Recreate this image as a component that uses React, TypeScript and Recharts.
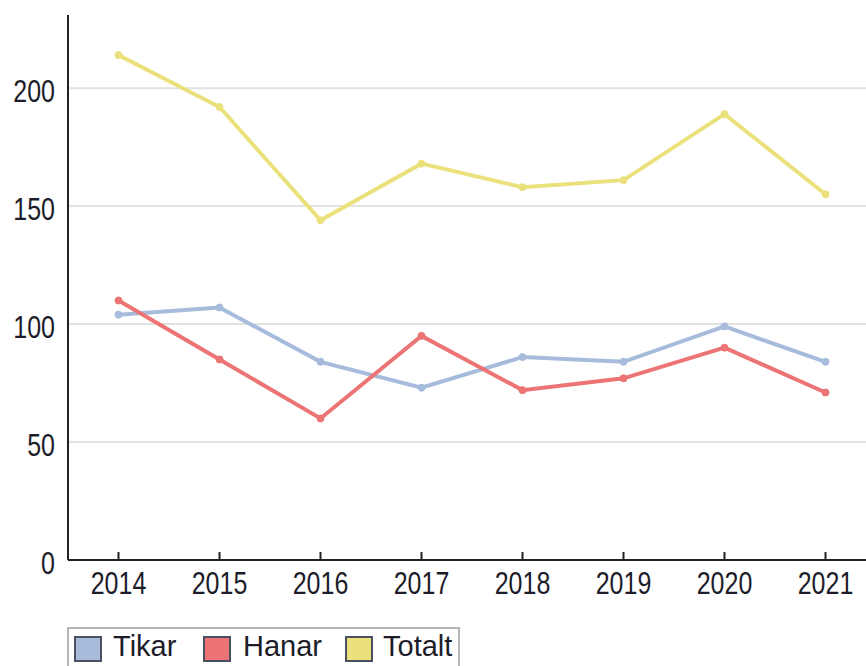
import { LineChart, Line, XAxis, YAxis, CartesianGrid } from "recharts";

const years = ["2014", "2015", "2016", "2017", "2018", "2019", "2020", "2021"];
const tikar = [104, 107, 84, 73, 86, 84, 99, 84];
const hanar = [110, 85, 60, 95, 72, 77, 90, 71];
const totalt = [214, 192, 144, 168, 158, 161, 189, 155];
const yTicks = [0, 50, 100, 150, 200];

const SERIES = [
  { key: "tikar", name: "Tikar", color: "#a7bcdc" },
  { key: "hanar", name: "Hanar", color: "#ec7474" },
  { key: "totalt", name: "Totalt", color: "#ebe17c" },
];

const FONT = "'Liberation Sans', Arial, sans-serif";
const TEXT = "#1d1d2a";

const data = years.map((y, i) => ({
  year: y,
  tikar: tikar[i],
  hanar: hanar[i],
  totalt: totalt[i],
}));

// x ticks point up into the plot, so draw them ourselves; labels are narrow
function XTick(props: any) {
  const { x, y, payload } = props;
  const axisY = y - 12;
  return (
    <g>
      <line x1={x} y1={axisY - 8} x2={x} y2={axisY} stroke="#222" strokeWidth={2} />
      <text
        transform={`translate(${x},${y}) scale(0.82,1)`}
        dy="0.71em"
        textAnchor="middle"
        fontSize={30.5}
        fontFamily={FONT}
        fill={TEXT}
      >
        {payload.value}
      </text>
    </g>
  );
}

function YTick(props: any) {
  const { x, y, payload } = props;
  return (
    <text
      transform={`translate(${x},${y + 3}) scale(0.82,1)`}
      dy="0.355em"
      textAnchor="end"
      fontSize={30.5}
      fontFamily={FONT}
      fill={TEXT}
    >
      {payload.value}
    </text>
  );
}

const LEGEND_POS = [
  { box: 74, text: 113 },
  { box: 203, text: 243 },
  { box: 345, text: 383 },
];

function LegendBox() {
  return (
    <div
      style={{
        position: "absolute",
        left: 67,
        top: 627,
        width: 393,
        height: 60,
        border: "2px solid #b6b6b6",
        boxSizing: "border-box",
      }}
    >
      {SERIES.map((s, i) => (
        <div key={s.key}>
          <span
            style={{
              position: "absolute",
              left: LEGEND_POS[i].box - 67 - 2,
              top: 636 - 627 - 2,
              width: 28,
              height: 26,
              boxSizing: "border-box",
              background: s.color,
              border: "2px solid #4a5060",
            }}
          />
          <span
            style={{
              position: "absolute",
              left: LEGEND_POS[i].text - 67 - 2,
              top: 632 - 627 - 2,
              fontFamily: FONT,
              fontSize: 29,
              lineHeight: "29px",
              color: TEXT,
              whiteSpace: "nowrap",
            }}
          >
            {s.name}
          </span>
        </div>
      ))}
    </div>
  );
}

export default function App() {
  return (
    <div style={{ position: "absolute", left: 0, top: 0, width: 866, height: 666, overflow: "hidden", background: "#fff" }}>
      <LineChart width={880} height={666} data={data} margin={{ top: 15, right: 4, left: 0, bottom: 0 }}>
        <CartesianGrid vertical={false} stroke="#e2e2e2" strokeWidth={2} horizontalValues={[50, 100, 150, 200]} />
        <XAxis
          dataKey="year"
          height={106}
          stroke="#222"
          strokeWidth={2}
          tickLine={false}
          tickSize={8}
          tickMargin={4}
          tick={<XTick />}
          interval={0}
          padding={{ left: 50.5, right: 50.5 }}
        />
        <YAxis
          width={68}
          domain={[0, 231]}
          ticks={yTicks}
          stroke="#222"
          strokeWidth={2}
          tickLine={false}
          tickSize={0}
          tickMargin={13}
          tick={<YTick />}
        />
        {SERIES.map((s) => (
          <Line
            key={s.key}
            dataKey={s.key}
            name={s.name}
            type="linear"
            stroke={s.color}
            strokeWidth={4}
            dot={{ r: 3.5, fill: s.color, stroke: s.color, strokeWidth: 1 }}
            isAnimationActive={false}
          />
        ))}
      </LineChart>
      <LegendBox />
    </div>
  );
}
